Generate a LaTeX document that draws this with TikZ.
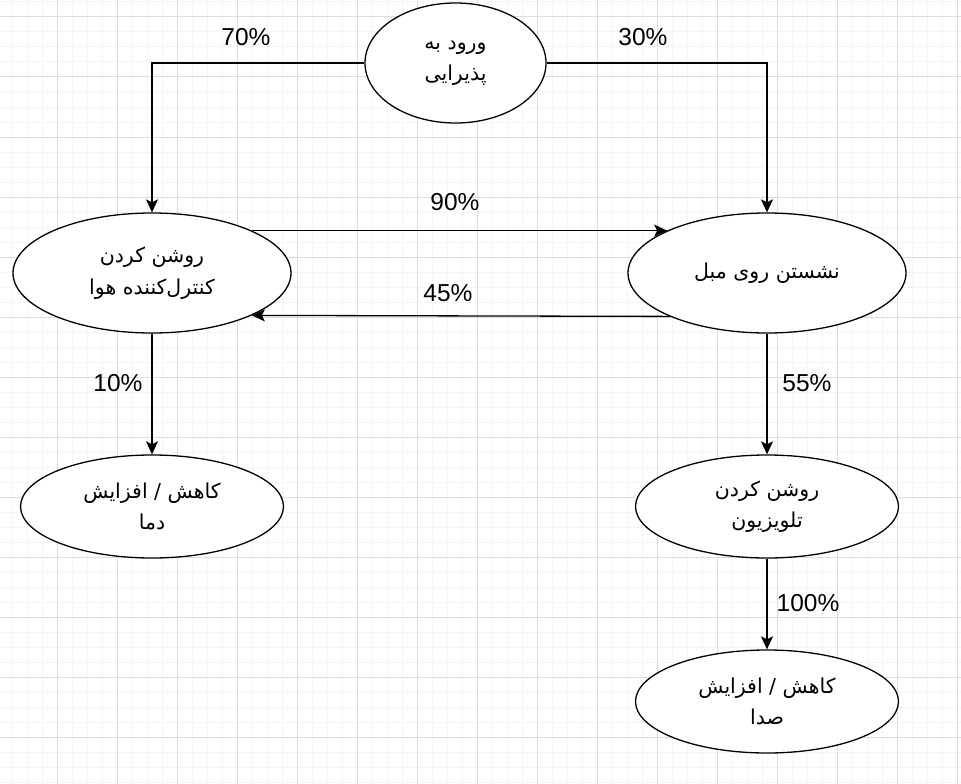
\documentclass[tikz,border=0pt]{standalone}
\usepackage{fontspec}
\setmainfont{Liberation Sans}
\newfontfamily\arabicfont[Script=Arabic]{DejaVu Sans}
\TeXXeTstate=1
\usetikzlibrary{shapes.geometric,arrows.meta}
\definecolor{minorgrid}{HTML}{F5F5F5}
\definecolor{majorgrid}{HTML}{DCDCDC}
\tikzset{
  state/.style={ellipse, draw=black, line width=1.3pt, fill=white, inner sep=0pt,
    align=center, font=\arabicfont\fontsize{20.5}{31.5}\selectfont},
  conn/.style={line width=1.3pt, -{Stealth[length=13pt,width=12pt,inset=3pt]}},
  pct/.style={font=\fontsize{24.5}{28}\selectfont, inner sep=0pt},
  minorline/.style={draw=minorgrid, line width=1pt},
  majorline/.style={draw=majorgrid, line width=1pt}
}
\begin{document}
\begin{tikzpicture}[x=1pt,y=-1pt]
\useasboundingbox (0,0) rectangle (961,784);
\fill[white] (0,0) rectangle (961,784);
% grid
\foreach \x in {12,27,...,957} \draw[minorline] (\x,0) -- (\x,784);
\foreach \y in {2,17,...,782} \draw[minorline] (0,\y) -- (961,\y);
\foreach \x in {57,117,...,957} \draw[majorline] (\x,0) -- (\x,784);
\foreach \y in {17,77,...,782} \draw[majorline] (0,\y) -- (961,\y);
% nodes
\node[state, minimum width=181pt, minimum height=120pt] (top) at (455.5,63)
  {\beginR ورود به\endR\\\beginR پذیرایی\endR};
\node[state, minimum width=278pt, minimum height=120pt] (ac) at (152,273)
  {\beginR روشن کردن\endR\\\beginR کنترل‌کننده هوا\endR};
\node[state, minimum width=278pt, minimum height=120pt] (sofa) at (767,273)
  {\beginR نشستن روی مبل\endR};
\node[state, minimum width=263pt, minimum height=103pt] (temp) at (152,506.5)
  {\beginR کاهش / افزایش\endR\\\beginR دما\endR};
\node[state, minimum width=263pt, minimum height=103pt] (tv) at (767,506.5)
  {\beginR روشن کردن\endR\\\beginR تلویزیون\endR};
\node[state, minimum width=263pt, minimum height=103pt] (vol) at (767,701.5)
  {\beginR کاهش / افزایش\endR\\\beginR صدا\endR};
% connectors
\draw[conn] (top.west) -| (ac.north);
\draw[conn] (top.east) -| (sofa.north);
\draw[conn] (ac.23) -- (sofa.157);
\draw[conn] (sofa.-156.5) -- (ac.-23.5);
\draw[conn] (ac.south) -- (temp.north);
\draw[conn] (sofa.south) -- (tv.north);
\draw[conn] (tv.south) -- (vol.north);
% labels
\node[pct] (l70) at (246,37) {70\%};
\node[pct] (l30) at (643,37) {30\%};
\node[pct] (l90) at (455,202) {90\%};
\node[pct] (l45) at (448,293) {45\%};
\node[pct] (l10) at (118,383) {10\%};
\node[pct] (l55) at (807,383) {55\%};
\node[pct] (l100) at (808,603) {100\%};
\end{tikzpicture}
\end{document}
